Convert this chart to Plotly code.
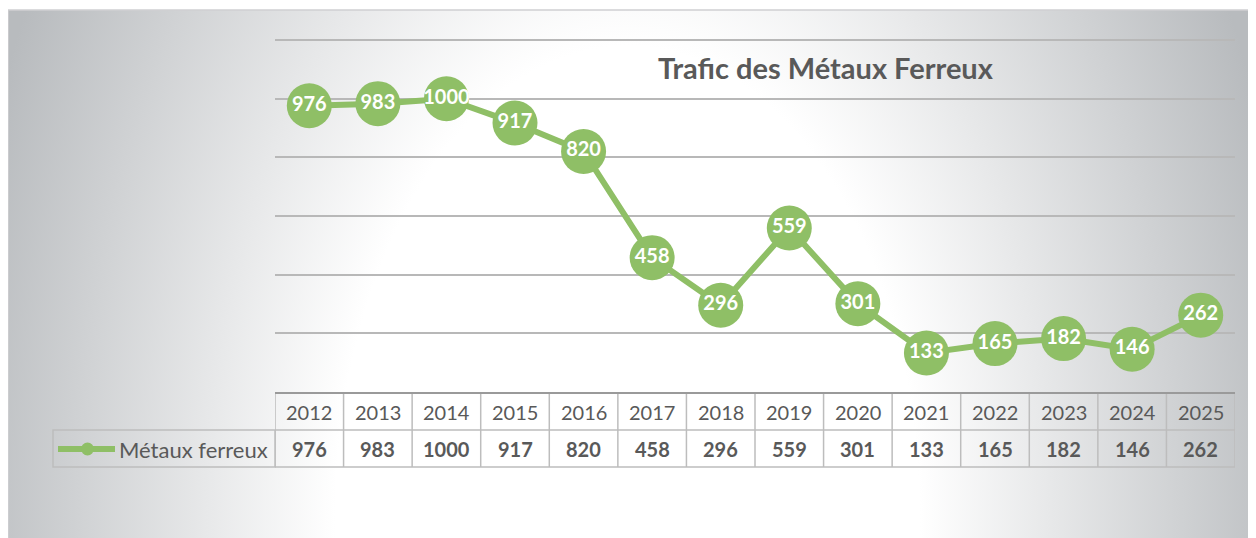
import base64
import plotly.graph_objects as go

# données du graphique
annees = ["2012", "2013", "2014", "2015", "2016", "2017", "2018",
          "2019", "2020", "2021", "2022", "2023", "2024", "2025"]
metaux_ferreux = [976, 983, 1000, 917, 820, 458, 296, 559, 301, 133, 165, 182, 146, 262]
nom_serie = "Métaux ferreux"
titre = "Trafic des Métaux Ferreux"

# la page ajoute une marge de 8 px autour de la figure
OFF = 8
W, H = 1256 - OFF, 538 - OFF
VERT = "#8fbf66"
GRIS_TXT = "#595959"
POLICE = "Lato"
Y_MAX = 1215          # un peu au-dessus de 1200 pour que la dernière grille soit tracée
PX_PAR_UNITE = 352 / 1200


def px_x(p):
    # pixel horizontal de la capture -> coordonnée paper
    return (p - OFF) / W


def px_y(p):
    # pixel vertical de la capture -> coordonnée paper
    return 1 - (p - OFF) / H


# === fond en dégradé radial (svg) ===
svg = """<svg xmlns="http://www.w3.org/2000/svg" width="1249" height="528"
viewBox="0 0 1249 528" preserveAspectRatio="none">
<defs><radialGradient id="g" gradientUnits="userSpaceOnUse" cx="620" cy="510" r="680"
gradientTransform="translate(620,510) scale(1,1.62) translate(-620,-510)">
<stop offset="0" stop-color="#ffffff"/><stop offset="0.43" stop-color="#ffffff"/>
<stop offset="1" stop-color="#b8bbbe"/></radialGradient></defs>
<rect x="0" y="0" width="1249" height="528" fill="url(#g)"/></svg>"""
fond = "data:image/svg+xml;base64," + base64.b64encode(svg.encode()).decode()

idx = list(range(len(annees)))

fig = go.Figure()
fig.add_trace(go.Scatter(
    x=idx, y=metaux_ferreux, mode="lines+markers+text",
    line=dict(color=VERT, width=6),
    marker=dict(size=45, color=VERT),
    text=[str(v) for v in metaux_ferreux], textposition="middle center",
    textfont=dict(family=POLICE, size=20, color="white", weight="bold"),
    cliponaxis=False, showlegend=False, hoverinfo="skip",
))

# === tableau de données sous l'axe ===
y_haut, y_sep, y_bas = px_y(394), px_y(430), px_y(467)
bord = dict(color="#bdbdbd", width=1.5)
shapes = []
for i in range(len(annees) + 1):
    shapes.append(dict(type="line", xref="x", yref="paper", x0=i - 0.5, x1=i - 0.5,
                       y0=y_bas, y1=y_haut, line=bord))
for yy in (y_sep, y_bas):
    shapes.append(dict(type="line", xref="x", yref="paper", x0=-0.5, x1=len(annees) - 0.5,
                       y0=yy, y1=yy, line=bord))
# case de la légende
x_leg = (53 - 275) / 960
shapes.append(dict(type="rect", xref="x domain", yref="paper", x0=x_leg, x1=0,
                   y0=y_bas, y1=y_sep, line=bord))
shapes.append(dict(type="line", xref="paper", yref="paper", x0=px_x(58), x1=px_x(115),
                   y0=px_y(449), y1=px_y(449), line=dict(color=VERT, width=6)))
shapes.append(dict(type="circle", xref="paper", yref="paper",
                   x0=px_x(81), x1=px_x(94), y0=px_y(455.5), y1=px_y(442.5),
                   fillcolor=VERT, line=dict(width=0)))
# cadre du graphique
shapes.append(dict(type="rect", xref="paper", yref="paper", x0=0, x1=1.01,
                   y0=-0.01, y1=px_y(10), line=dict(color="#cfd0d2", width=1.5),
                   layer="below"))

annotations = []
for i, (a, v) in enumerate(zip(annees, metaux_ferreux)):
    annotations.append(dict(x=i, xref="x", y=px_y(412), yref="paper", text=a,
                            showarrow=False, yanchor="middle",
                            font=dict(family=POLICE, size=20, color=GRIS_TXT)))
    annotations.append(dict(x=i, xref="x", y=px_y(449), yref="paper", text=str(v),
                            showarrow=False, yanchor="middle",
                            font=dict(family=POLICE, size=20, color=GRIS_TXT, weight="bold")))
annotations.append(dict(x=px_x(117), xref="paper", y=px_y(449), yref="paper", text=nom_serie,
                        xanchor="left", yanchor="middle", showarrow=False,
                        font=dict(family=POLICE, size=22, color=GRIS_TXT)))
annotations.append(dict(x=px_x(826), xref="paper", y=px_y(68), yref="paper", text=titre,
                        showarrow=False, yanchor="middle",
                        font=dict(family=POLICE, size=29, color=GRIS_TXT, weight="bold")))

fig.update_layout(
    width=W, height=H, margin=dict(l=0, r=0, t=0, b=0),
    paper_bgcolor="white", plot_bgcolor="rgba(0,0,0,0)",
    xaxis=dict(domain=[px_x(275), px_x(1235)], range=[-0.5, len(annees) - 0.5],
               showticklabels=False, showgrid=False, zeroline=False, ticks="",
               showline=True, linecolor="#9a9a9a", linewidth=2, fixedrange=True),
    yaxis=dict(domain=[px_y(392), px_y(392 - Y_MAX * PX_PAR_UNITE)], range=[0, Y_MAX],
               tick0=0, dtick=200,
               showticklabels=False, gridcolor="#b8b8b8", gridwidth=1.5,
               zeroline=False, ticks="", fixedrange=True),
    images=[dict(source=fond, xref="paper", yref="paper", x=0, y=px_y(10),
                 sizex=1, sizey=px_y(10), sizing="stretch",
                 xanchor="left", yanchor="top", layer="below")],
    shapes=shapes, annotations=annotations,
)

fig.write_html("out.html")
